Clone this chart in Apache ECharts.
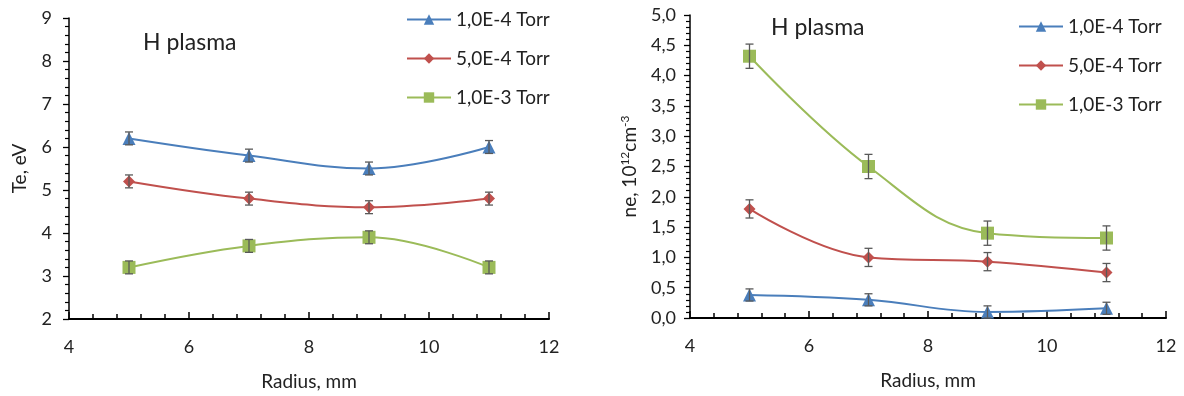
<!DOCTYPE html>
<html>
<head>
<meta charset="utf-8">
<script src="https://cdn.jsdelivr.net/npm/echarts@6/dist/echarts.min.js"></script>
<style>
  html, body { margin: 0; padding: 0; background: #fff; }
  #chart { width: 1184px; height: 396px; }
</style>
</head>
<body>
<div id="chart"></div>
<script>
// radius points, mm
const radius = [5, 7, 9, 11]
const pressures = ['1,0E-4 Torr', '5,0E-4 Torr', '1,0E-3 Torr']

// electron temperature, eV
const te1e4 = [6.2, 5.8, 5.5, 6.0]
const te5e4 = [5.2, 4.8, 4.6, 4.8]
const te1e3 = [3.2, 3.7, 3.9, 3.2]
const teErr1e4 = [0.15, 0.15, 0.15, 0.15]
const teErr5e4 = [0.15, 0.15, 0.15, 0.15]
const teErr1e3 = [0.15, 0.15, 0.15, 0.15]

// electron density, 10^12 cm^-3
const ne1e4 = [0.38, 0.3, 0.1, 0.16]
const ne5e4 = [1.8, 1.0, 0.93, 0.75]
const ne1e3 = [4.32, 2.5, 1.4, 1.32]
const neErr1e4 = [0.1, 0.1, 0.1, 0.1]
const neErr5e4 = [0.15, 0.15, 0.15, 0.15]
const neErr1e3 = [0.2, 0.2, 0.2, 0.2]

const colors = ['#4a7ebb', '#c0504d', '#9bbb59']
const symbols = ['triangle', 'diamond', 'rect']
const symbolSizes = [13, 12, 13]
const font = 'Lato, "Open Sans", sans-serif'
const textColor = '#222'

const chart = echarts.init(document.getElementById('chart'))

function lineSeries(idx, values, axisIdx) {
  return {
    name: pressures[idx],
    type: 'line',
    xAxisIndex: axisIdx,
    yAxisIndex: axisIdx,
    smooth: 0.4,
    symbol: symbols[idx],
    symbolSize: symbolSizes[idx],
    color: colors[idx],
    lineStyle: { width: 2, color: colors[idx] },
    itemStyle: { color: colors[idx] },
    data: radius.map((r, i) => [r, values[i]]),
    z: 3
  }
}

// error bars drawn as a custom series
function errSeries(values, errs, axisIdx) {
  return {
    type: 'custom',
    name: 'err',
    xAxisIndex: axisIdx,
    yAxisIndex: axisIdx,
    z: 4,
    silent: true,
    data: radius.map((r, i) => [r, values[i] - errs[i], values[i] + errs[i]]),
    renderItem: function (params, api) {
      const lo = api.coord([api.value(0), api.value(1)])
      const hi = api.coord([api.value(0), api.value(2)])
      const w = 4
      const style = { stroke: '#595959', lineWidth: 1.3 }
      return {
        type: 'group',
        children: [
          { type: 'line', shape: { x1: lo[0], y1: lo[1], x2: hi[0], y2: hi[1] }, style },
          { type: 'line', shape: { x1: lo[0] - w, y1: lo[1], x2: lo[0] + w, y2: lo[1] }, style },
          { type: 'line', shape: { x1: hi[0] - w, y1: hi[1], x2: hi[0] + w, y2: hi[1] }, style }
        ]
      }
    }
  }
}

function xAxis(gridIndex) {
  return {
    type: 'value',
    gridIndex: gridIndex,
    min: 4,
    max: 12,
    interval: 2,
    name: 'Radius, mm',
    nameLocation: 'middle',
    nameGap: 53,
    nameTextStyle: { fontFamily: font, fontSize: 19, color: textColor },
    axisLine: { onZero: false, lineStyle: { color: '#000', width: 2 } },
    axisTick: { inside: true, length: 7, lineStyle: { color: '#000', width: 1.5 } },
    minorTick: { show: true, splitNumber: 5, length: 5, lineStyle: { color: '#000', width: 1.5 } },
    axisLabel: { fontFamily: font, fontSize: 18, color: textColor, margin: 19 },
    splitLine: { show: false }
  }
}

const legendText = { fontFamily: font, fontSize: 19, color: textColor }

const option = {
  animation: false,
  textStyle: { fontFamily: font },
  grid: [
    { left: 69, top: 18, width: 480, height: 301 },
    { left: 690, top: 15, width: 476, height: 303 }
  ],
  legend: [
    {
      data: pressures,
      orient: 'vertical',
      left: 401,
      top: 5,
      itemWidth: 44,
      itemHeight: 13,
      itemGap: 20,
      textStyle: legendText
    },
    {
      data: pressures,
      orient: 'vertical',
      left: 1013,
      top: 12,
      itemWidth: 44,
      itemHeight: 13,
      itemGap: 20,
      textStyle: legendText
    }
  ],
  graphic: [
    { type: 'text', left: 143, top: 31, style: { text: 'H plasma', font: '23px ' + font, fill: textColor } },
    { type: 'text', left: 771, top: 16, style: { text: 'H plasma', font: '23px ' + font, fill: textColor } }
  ],
  xAxis: [xAxis(0), xAxis(1)],
  yAxis: [
    {
      type: 'value',
      gridIndex: 0,
      min: 2,
      max: 9,
      interval: 1,
      name: 'Te, eV',
      nameLocation: 'middle',
      nameGap: 40,
      nameTextStyle: { fontFamily: font, fontSize: 19, color: textColor },
      axisLine: { show: true, lineStyle: { color: '#000', width: 1.5 } },
      axisTick: { show: true, length: 6, lineStyle: { color: '#000', width: 1.3 } },
      minorTick: { show: true, splitNumber: 5, length: 4, lineStyle: { color: '#000', width: 1.2 } },
      axisLabel: { fontFamily: font, fontSize: 18, color: textColor, margin: 17 },
      splitLine: { show: false }
    },
    {
      type: 'value',
      gridIndex: 1,
      min: 0,
      max: 5,
      interval: 0.5,
      name: '{n|ne, 10}{s|12}{n|cm}{s|-3}',
      nameLocation: 'middle',
      nameGap: 50,
      nameTextStyle: {
        fontFamily: font,
        fontSize: 19,
        color: textColor,
        rich: {
          n: { fontFamily: font, fontSize: 19, color: textColor },
          s: { fontFamily: font, fontSize: 12, color: textColor, verticalAlign: 'top', padding: [0, 0, 9, 0] }
        }
      },
      axisLine: { show: true, lineStyle: { color: '#000', width: 1.5 } },
      axisTick: { show: true, length: 6, lineStyle: { color: '#000', width: 1.3 } },
      minorTick: { show: true, splitNumber: 5, length: 4, lineStyle: { color: '#000', width: 1.2 } },
      axisLabel: {
        fontFamily: font,
        fontSize: 18,
        color: textColor,
        margin: 14,
        formatter: v => v.toFixed(1).replace('.', ',')
      },
      splitLine: { show: false }
    }
  ],
  series: [
    lineSeries(0, te1e4, 0),
    lineSeries(1, te5e4, 0),
    lineSeries(2, te1e3, 0),
    errSeries(te1e4, teErr1e4, 0),
    errSeries(te5e4, teErr5e4, 0),
    errSeries(te1e3, teErr1e3, 0),
    lineSeries(0, ne1e4, 1),
    lineSeries(1, ne5e4, 1),
    lineSeries(2, ne1e3, 1),
    errSeries(ne1e4, neErr1e4, 1),
    errSeries(ne5e4, neErr5e4, 1),
    errSeries(ne1e3, neErr1e3, 1)
  ]
}

chart.setOption(option)
</script>
</body>
</html>
